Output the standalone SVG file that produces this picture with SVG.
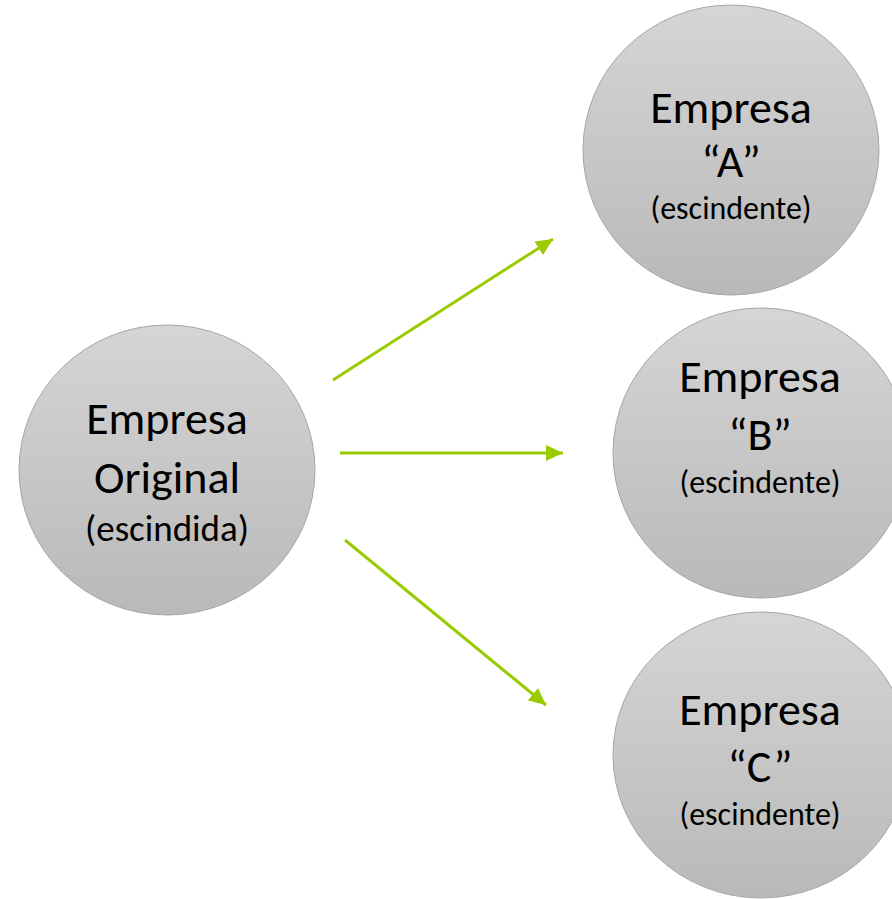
<svg xmlns="http://www.w3.org/2000/svg" width="892" height="899" viewBox="0 0 892 899">
<defs>
<linearGradient id="g" x1="0" y1="0" x2="0" y2="1">
<stop offset="0" stop-color="#d5d5d5"/>
<stop offset="1" stop-color="#b9b9b9"/>
</linearGradient>
<marker id="ah" markerUnits="userSpaceOnUse" markerWidth="18" markerHeight="18" viewBox="0 0 18 18" refX="17" refY="9" orient="auto">
<path d="M0,1 L17,9 L0,17 Z" fill="#99cc00"/>
</marker>
<style>
.n{fill:url(#g);stroke:#a6a6a6;stroke-width:1}
.t{font-family:Carlito,Lato,"Open Sans",sans-serif;fill:#000;text-anchor:middle}
.big{font-size:46px}
.sm{font-size:32px}
.c{stroke:#99cc00;stroke-width:3;fill:none;marker-end:url(#ah)}
</style>
</defs>
<rect width="892" height="899" fill="#fff"/>
<g id="connectors">
<line class="c" x1="333" y1="380" x2="553" y2="239"/>
<line class="c" x1="340" y1="453" x2="563" y2="453"/>
<line class="c" x1="345" y1="540" x2="546" y2="705"/>
</g>
<g id="node-original">
<ellipse class="n" cx="167" cy="470" rx="148" ry="145"/>
<text class="t big" x="167" y="434">Empresa</text>
<text class="t big" x="167" y="493">Original</text>
<text class="t" style="font-size:37px" x="167" y="541">(escindida)</text>
</g>
<g id="node-a">
<ellipse class="n" cx="731" cy="150" rx="148" ry="145"/>
<text class="t big" x="731" y="123">Empresa</text>
<text class="t big" x="731" y="177">“A”</text>
<text class="t sm" x="731" y="219">(escindente)</text>
</g>
<g id="node-b">
<ellipse class="n" cx="761" cy="453" rx="148" ry="145"/>
<text class="t big" x="760" y="392">Empresa</text>
<text class="t big" x="760" y="450">“B”</text>
<text class="t sm" x="760" y="493">(escindente)</text>
</g>
<g id="node-c">
<ellipse class="n" cx="761" cy="755" rx="148" ry="143"/>
<text class="t big" x="760" y="725">Empresa</text>
<text class="t big" x="760" y="782">“C”</text>
<text class="t sm" x="760" y="825">(escindente)</text>
</g>
</svg>
